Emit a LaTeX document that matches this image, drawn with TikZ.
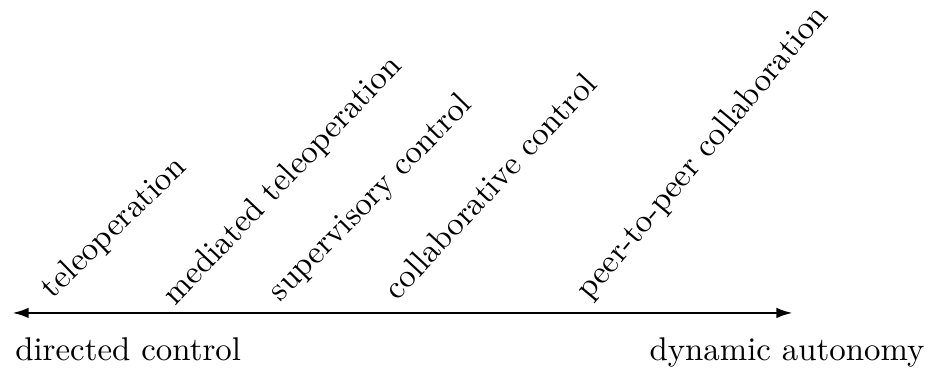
\documentclass[tikz,border=0pt]{standalone}
\usetikzlibrary{arrows.meta}

\begin{document}
\begin{tikzpicture}[thick,>={Latex[length=5pt,width=3.2pt]},label node/.style={rotate=#1,anchor=base west,inner sep=0pt},end node/.style={inner sep=0pt}]
\useasboundingbox (0,0) rectangle (10,3.947);
\coordinate (L) at (0.13,0.6);
\coordinate (R) at (8.48,0.6);
\draw[<->] (L) -- (R);
\node[label node=44] (1) at (0.556,0.738) {teleoperation};
\node[label node=46.5] (2) at (1.872,0.66) {mediated teleoperation};
\node[label node=45.5] (3) at (2.995,0.706) {supervisory control};
\node[label node=47] (4) at (4.246,0.717) {collaborative control};
\node[label node=50] (5) at (6.300,0.717) {peer-to-peer collaboration};
\node[end node,anchor=base west] (dc) at (0.15,0.096) {directed control};
\node[end node,anchor=base east] (da) at (9.9,0.096) {dynamic autonomy};
\end{tikzpicture}
\end{document}
